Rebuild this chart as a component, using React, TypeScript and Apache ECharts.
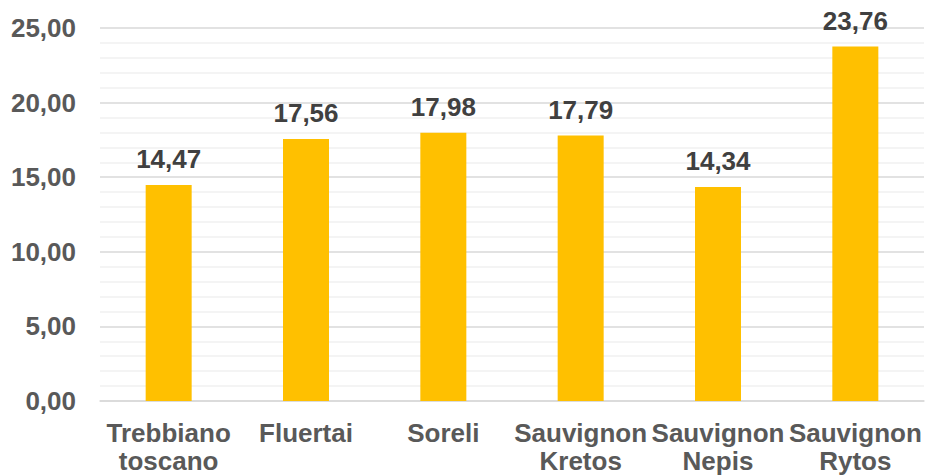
import React, { useEffect, useRef } from "react";
import * as echarts from "echarts";

const categories = [
  "Trebbiano toscano",
  "Fluertai",
  "Soreli",
  "Sauvignon Kretos",
  "Sauvignon Nepis",
  "Sauvignon Rytos",
];
const values = [14.47, 17.56, 17.98, 17.79, 14.34, 23.76];
const yMin = 0;
const yMax = 25;
const yInterval = 5;

const FONT = "Arial, 'Liberation Sans', sans-serif";
const fmt = (v: number) => v.toFixed(2).replace(".", ",");

export default function App() {
  const ref = useRef<HTMLDivElement>(null);
  useEffect(() => {
    if (!ref.current) return;
    const chart = echarts.init(ref.current, null, { renderer: "svg" });
    chart.setOption({
      animation: false,
      backgroundColor: "#ffffff",
      grid: { left: 100, right: 3, top: 28, bottom: 75, containLabel: false },
      xAxis: {
        type: "category",
        data: categories,
        axisLine: { show: true, lineStyle: { color: "#D9D9D9", width: 1.5 } },
        axisTick: { show: false },
        axisLabel: {
          interval: 0,
          margin: 18,
          color: "#595959",
          fontFamily: FONT,
          fontWeight: "bold",
          fontSize: 26,
          lineHeight: 28,
          formatter: (s: string) => s.replace(" ", "\n"),
        },
      },
      yAxis: {
        type: "value",
        min: yMin,
        max: yMax,
        interval: yInterval,
        axisLine: { show: false },
        axisTick: { show: false },
        axisLabel: {
          margin: 24,
          color: "#595959",
          fontFamily: FONT,
          fontWeight: "bold",
          fontSize: 26,
          formatter: (v: number) => fmt(v),
        },
        splitLine: { show: true, lineStyle: { color: "#D9D9D9", width: 1.5 } },
        minorTick: { show: false, splitNumber: 5 },
        minorSplitLine: { show: true, lineStyle: { color: "#F0F0F0", width: 1.5 } },
      },
      series: [
        {
          type: "bar",
          data: values,
          barWidth: 46,
          itemStyle: { color: "#FFC000" },
          label: {
            show: true,
            position: "top",
            distance: 13,
            color: "#404040",
            fontFamily: FONT,
            fontWeight: "bold",
            fontSize: 26,
            formatter: (p: any) => fmt(p.value),
          },
        },
      ],
    });
    return () => chart.dispose();
  }, []);
  return (
    <div
      ref={ref}
      style={{ position: "fixed", left: 0, top: 0, width: 927, height: 476 }}
    />
  );
}
